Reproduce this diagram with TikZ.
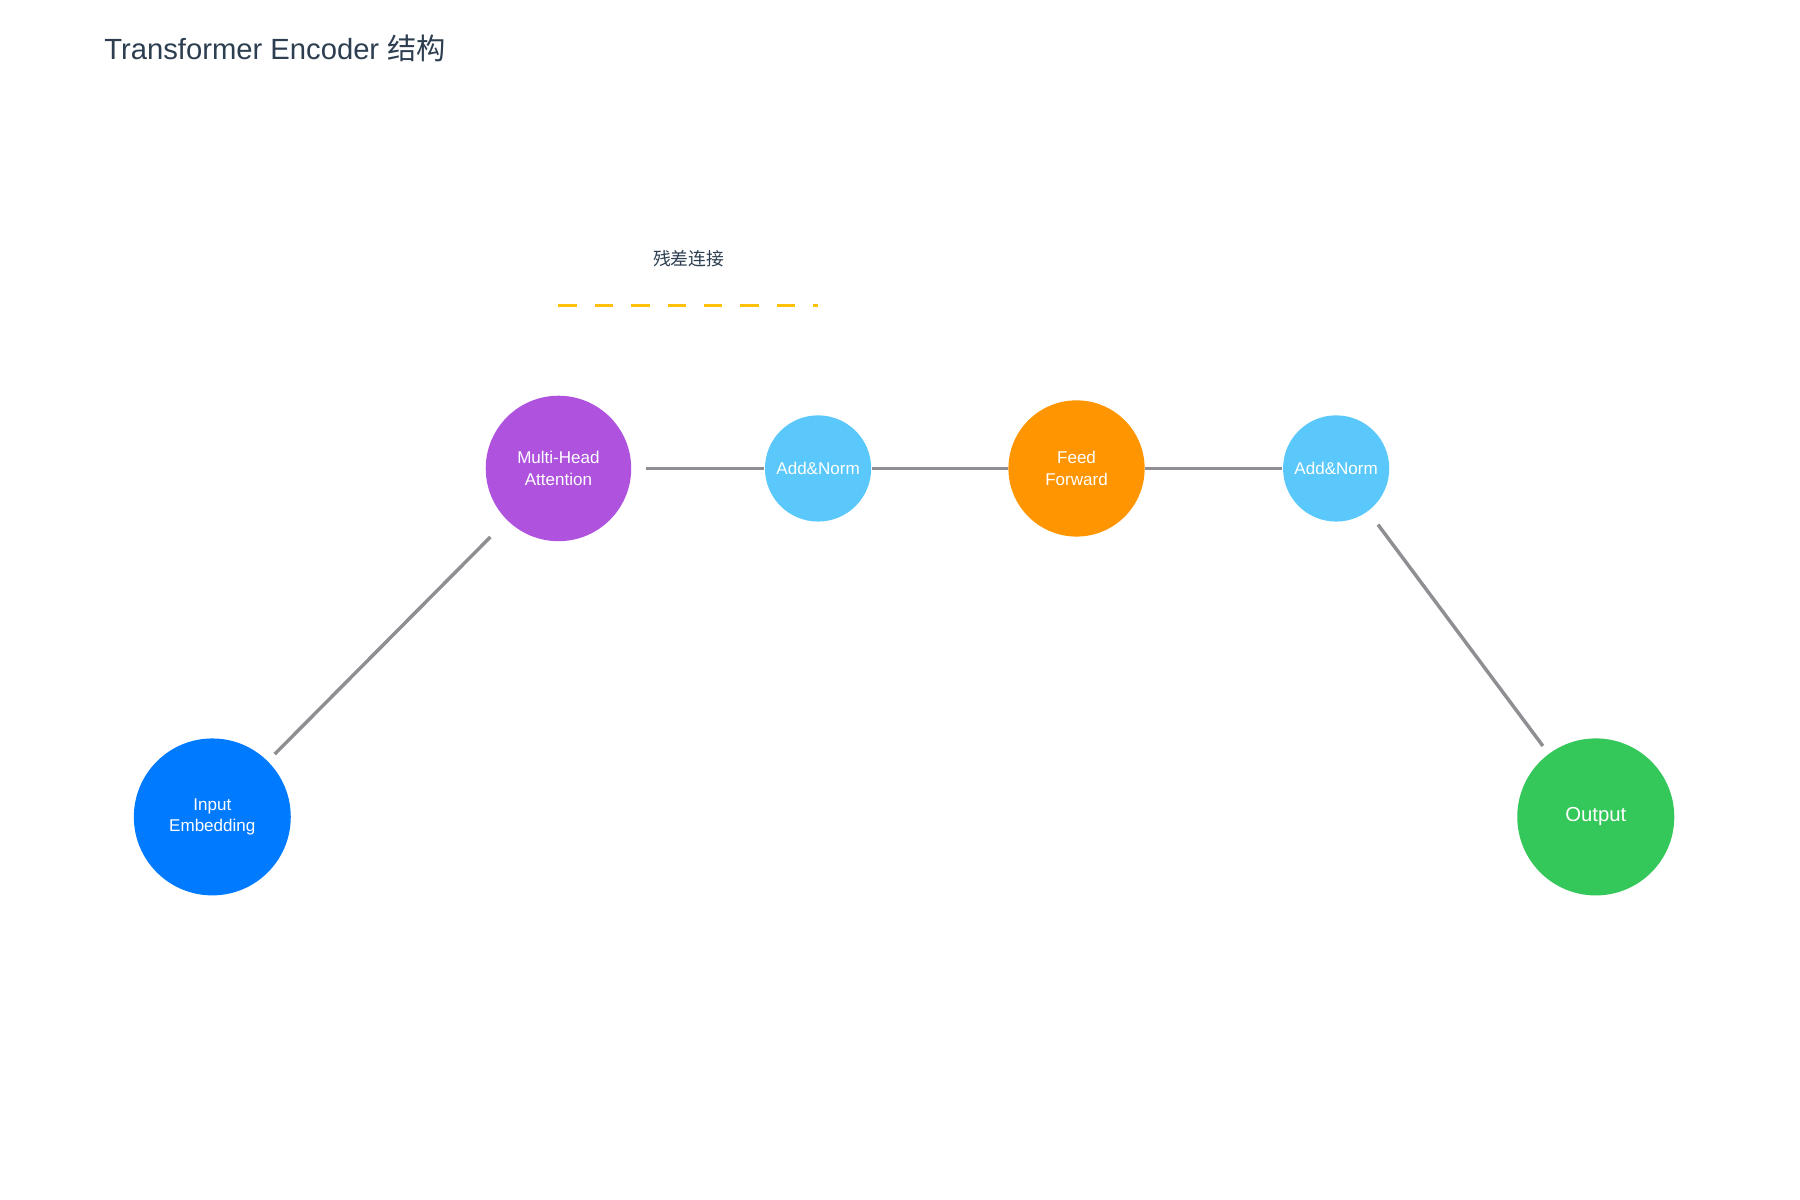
\documentclass[tikz,border=0pt]{standalone}
\usepackage{fontspec}
\setmainfont{Liberation Sans}
\newfontfamily\cjk{Noto Sans CJK SC}
\begin{document}
\begin{tikzpicture}[x=0.01cm,y=-0.01cm,
  circ/.style={circle,inner sep=0pt,text=white,align=center,font=\fontsize{4.2}{5.4}\selectfont},
  conn/.style={draw=gray!80!black!70,line width=0.85pt}]
\useasboundingbox (0,0) rectangle (1560,1040);
\definecolor{cblue}{HTML}{007AFF}\definecolor{cpurple}{HTML}{AF52DE}
\definecolor{clight}{HTML}{5AC8FA}\definecolor{corange}{HTML}{FF9500}
\definecolor{cgreen}{HTML}{34C759}\definecolor{cline}{HTML}{8E8E93}
\definecolor{cyel}{HTML}{FFC107}\definecolor{ctitle}{HTML}{2C3E50}
\node[anchor=west,text=ctitle,font=\fontsize{7.2}{8}\selectfont] (title) at (78,42) {Transformer Encoder {\cjk 结构}};
\node[circ,fill=cblue,minimum size=136\pgflinewidth/\pgflinewidth*0.01cm] (in) at (184,708) {Input\\Embedding};
\node[circ,fill=cpurple,minimum size=1.26cm] (mha) at (484,406) {Multi-Head\\Attention};
\node[circ,fill=clight,minimum size=0.92cm] (an1) at (709,406) {Add\&Norm};
\node[circ,fill=corange,minimum size=1.18cm] (ff) at (933,406) {Feed\\Forward};
\node[circ,fill=clight,minimum size=0.92cm] (an2) at (1158,406) {Add\&Norm};
\node[circ,fill=cgreen,minimum size=1.36cm,font=\fontsize{5}{6}\selectfont] (out) at (1383,708) {Output};
\node[text=ctitle,font=\cjk\fontsize{4.4}{5}\selectfont] (lab) at (597,224) {残差连接};
\coordinate (d1) at (484,265); \coordinate (d2) at (709,265);
\draw[cyel,line width=0.85pt,dash pattern=on 0.16cm off 0.155cm] (d1) -- (d2);
\begin{scope}[line width=0.85pt,draw=cline]
\draw[cline,line width=0.85pt,shorten <=0.08cm,shorten >=0.2cm] (in) -- (mha);
\draw[cline,line width=0.85pt,shorten <=0.12cm] (mha) -- (an1);
\draw[cline,line width=0.85pt] (an1) -- (ff);
\draw[cline,line width=0.85pt] (ff) -- (an2);
\draw[cline,line width=0.85pt,shorten <=0.14cm,shorten >=0.08cm] (an2) -- (out);
\end{scope}
\end{tikzpicture}
\end{document}
